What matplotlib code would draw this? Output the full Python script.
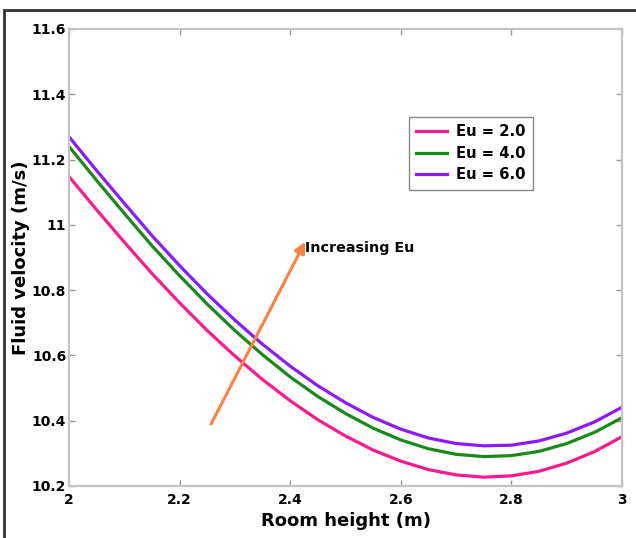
import matplotlib
matplotlib.use("Agg")
import matplotlib.pyplot as plt
from matplotlib.patches import Rectangle

# ── Data ───────────────────────────────────────────────────
room_height = [2.00, 2.05, 2.10, 2.15, 2.20, 2.25, 2.30, 2.35, 2.40, 2.45, 2.50,
               2.55, 2.60, 2.65, 2.70, 2.75, 2.80, 2.85, 2.90, 2.95, 3.00]

vel_eu2 = [11.148, 11.046, 10.947, 10.851, 10.761, 10.676, 10.598, 10.526, 10.461,
           10.403, 10.353, 10.310, 10.276, 10.250, 10.234, 10.227, 10.231, 10.245,
           10.270, 10.305, 10.351]
vel_eu4 = [11.240, 11.136, 11.035, 10.936, 10.844, 10.757, 10.676, 10.602, 10.534,
           10.474, 10.422, 10.377, 10.341, 10.314, 10.297, 10.290, 10.293, 10.306,
           10.330, 10.364, 10.409]
vel_eu6 = [11.270, 11.166, 11.066, 10.967, 10.875, 10.788, 10.708, 10.634, 10.567,
           10.507, 10.455, 10.410, 10.374, 10.347, 10.330, 10.323, 10.325, 10.338,
           10.362, 10.396, 10.441]

series_labels = ["Eu = 2.0", "Eu = 4.0", "Eu = 6.0"]

xticks = [2.0, 2.2, 2.4, 2.6, 2.8, 3.0]
xtick_labels = ["2", "2.2", "2.4", "2.6", "2.8", "3"]
yticks = [10.2, 10.4, 10.6, 10.8, 11.0, 11.2, 11.4, 11.6]
ytick_labels = ["10.2", "10.4", "10.6", "10.8", "11", "11.2", "11.4", "11.6"]

arrow_tail = (2.257, 10.39)
arrow_head = (2.427, 10.948)

# ── Style ──────────────────────────────────────────────────
COLORS = ["#ff1a8c", "#198a19", "#8c1aff"]
ARROW = "#ff8040"
SPINE = "#c4c4c4"
plt.rcParams["font.family"] = ["DejaVu Sans"]
plt.rcParams["font.weight"] = "bold"

fig = plt.figure(figsize=(6.36, 5.38), dpi=100)
ax = fig.add_axes([0.1085, 0.0967, 0.8695, 0.8494])

# outer frame (cropped on right/bottom in the reference)
fig.patches.append(Rectangle((4 / 636, -0.5), 2.0, 1.5 - 10 / 538,
                             transform=fig.transFigure, fill=False,
                             edgecolor="#333333", linewidth=2.0, clip_on=False))

for vals, col, lab in zip([vel_eu2, vel_eu4, vel_eu6], COLORS, series_labels):
    ax.plot(room_height, vals, color=col, linewidth=2.3, label=lab,
            solid_joinstyle="round")

ax.annotate("", xy=arrow_head, xytext=arrow_tail,
            arrowprops=dict(arrowstyle="-|>", color=ARROW, lw=2.2,
                            mutation_scale=16, shrinkA=0, shrinkB=0))
ax.text(arrow_head[0], arrow_head[1] - 0.02, "Increasing Eu",
        fontsize=10.3, fontweight="bold", ha="left", va="center")

ax.set_xlim(2, 3)
ax.set_ylim(10.2, 11.6)
ax.set_xticks(xticks)
ax.set_xticklabels(xtick_labels)
ax.set_yticks(yticks)
ax.set_yticklabels(ytick_labels)
ax.tick_params(direction="in", length=4, color="#999999", top=True, right=True,
               labelsize=10, width=1)
ax.tick_params(axis="y", pad=2)
ax.tick_params(axis="x", pad=5)
for s in ax.spines.values():
    s.set_color(SPINE)
    s.set_linewidth(1.6)

ax.set_xlabel("Room height (m)", fontsize=13, fontweight="bold", labelpad=4)
ax.set_ylabel("Fluid velocity (m/s)", fontsize=13, fontweight="bold", labelpad=1)

leg = ax.legend(loc="center", bbox_to_anchor=(0.727, 0.728), fontsize=10.6,
                fancybox=False, framealpha=1, edgecolor="#888888",
                handlelength=2.1, handletextpad=0.6, borderpad=0.5,
                labelspacing=0.45)
leg.get_frame().set_linewidth(1.0)

fig.savefig("out.png", dpi=100)
